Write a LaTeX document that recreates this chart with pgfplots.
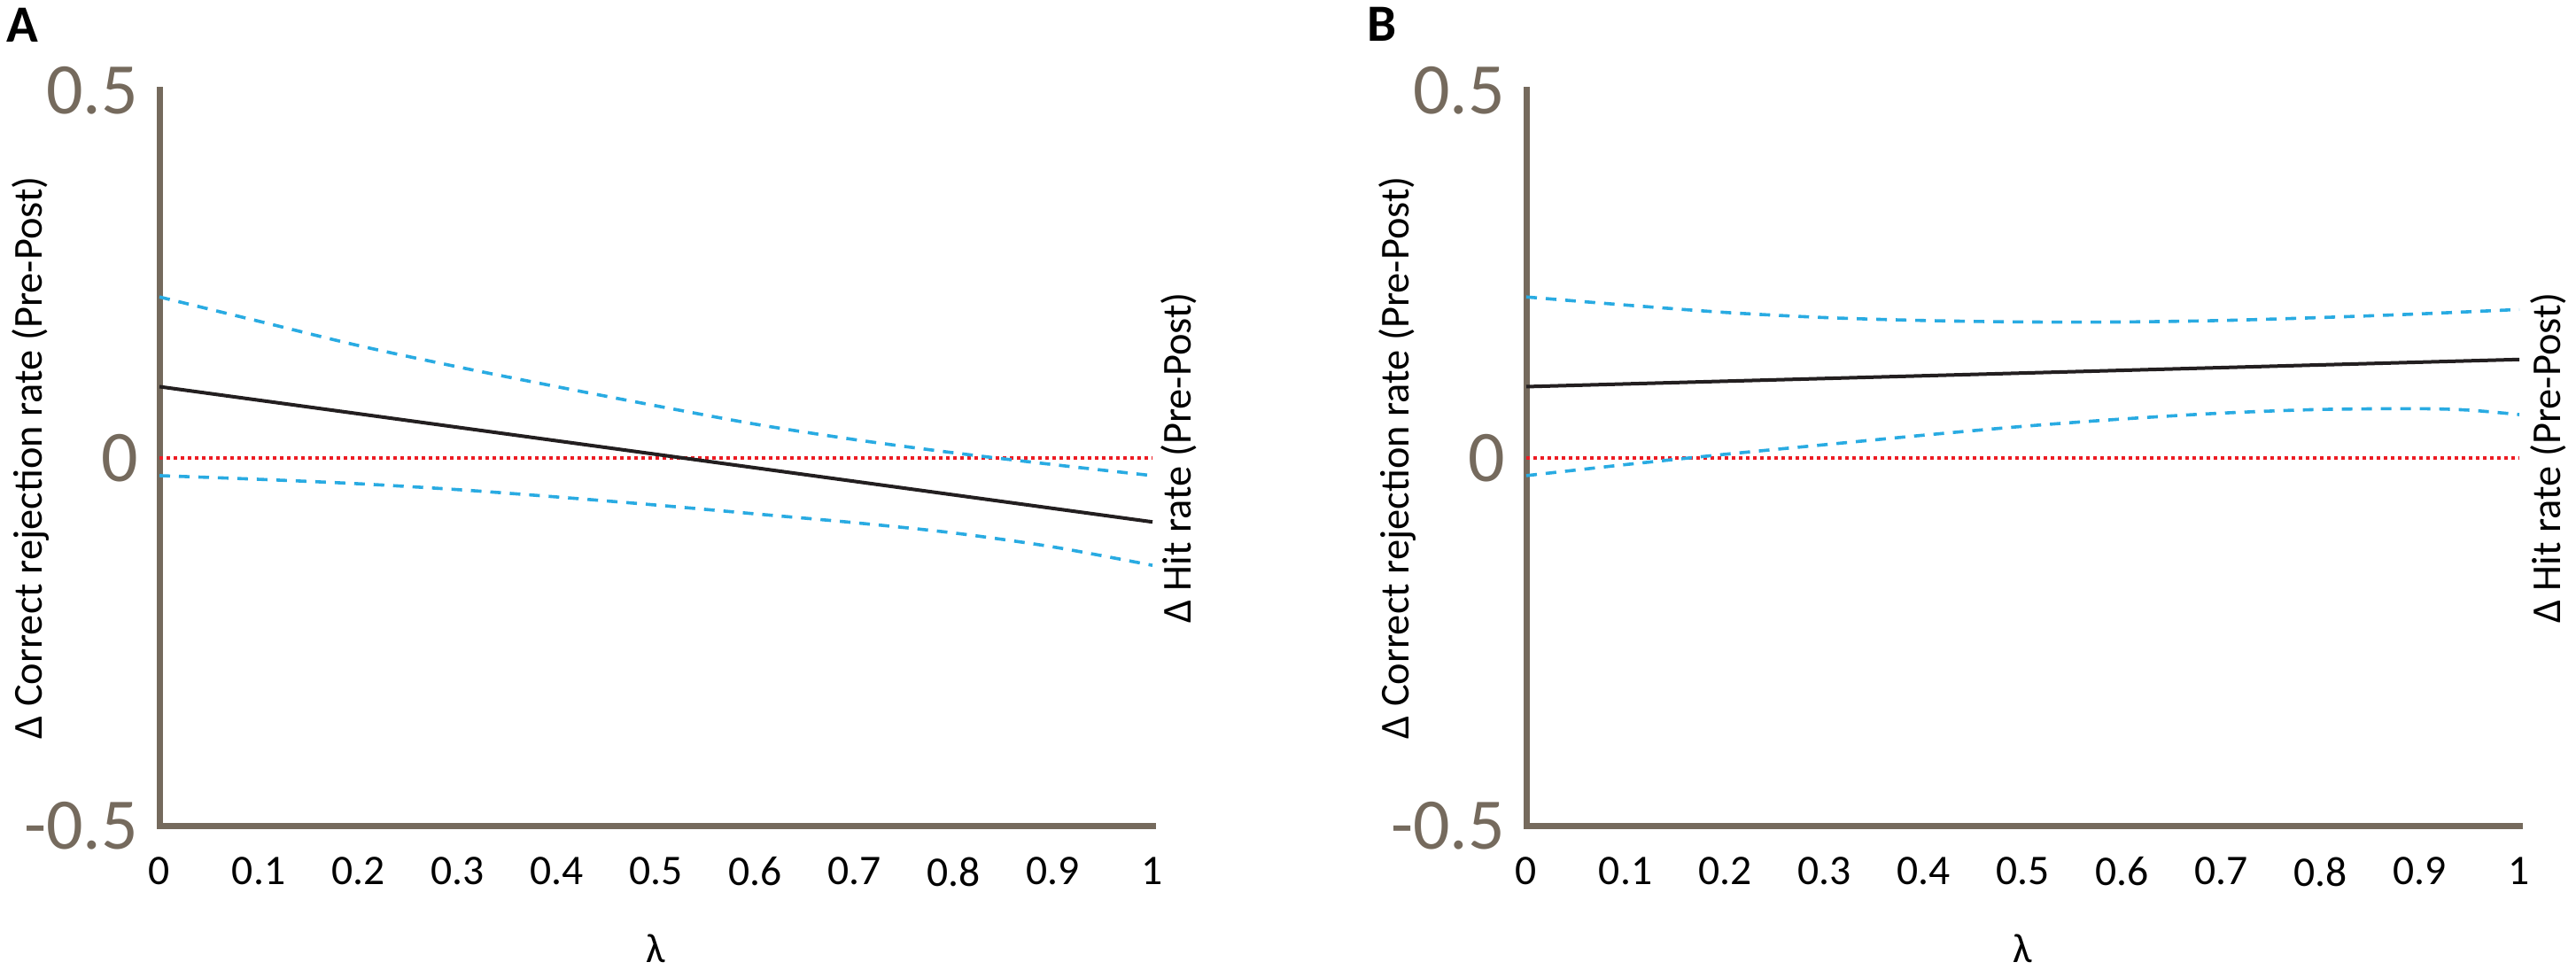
\documentclass[border=0pt]{standalone}
\usepackage{pgfplots}
\pgfplotsset{compat=1.18}
\usepackage{fontspec}
\setmainfont{Carlito}
\definecolor{axc}{RGB}{117,106,93}
\definecolor{cib}{RGB}{41,171,226}
\definecolor{zr}{RGB}{237,28,36}
\definecolor{ln}{RGB}{35,31,32}
\pgfplotsset{panel/.style={
  scale only axis, width=280.25pt, height=207.5pt,
  xmin=0, xmax=1, ymin=-0.5, ymax=0.5,
  axis x line=bottom, axis y line=left,
  axis line style={-, line width=1.75pt, color=axc, line cap=rect},
  xtick={0,0.1,0.2,0.3,0.4,0.5,0.6,0.7,0.8,0.9,1},
  xticklabels={0,0.1,0.2,0.3,0.4,0.5,0.6,0.7,0.8,0.9,1},
  ytick={-0.5,0,0.5}, yticklabels={-0.5,0,0.5},
  major tick length=0pt,
  /pgf/number format/assume math mode=true,
  xticklabel style={font=\fontsize{11.9}{12}\selectfont, text=black, anchor=north, inner sep=0pt, yshift=-8.75pt},
  yticklabel style={font=\fontsize{20.5}{21}\selectfont, text=axc, anchor=east, inner sep=0pt, xshift=-5.75pt},
  every axis y label/.style={at={(axis description cs:-0.1186,0.5)}, rotate=90, anchor=base, font=\fontsize{11.6}{12}\selectfont},
  every axis x label/.style={at={(axis description cs:0.5,-0.1867)}, anchor=base, font=\fontsize{11.6}{12}\selectfont},
  clip=false,
}}
\begin{document}
\begin{tikzpicture}
\useasboundingbox (0,0) rectangle (727pt,273.5pt);
\begin{axis}[panel, at={(45pt,40.5pt)}, anchor=south west, xlabel={λ}, ylabel={Δ Correct rejection rate (Pre-Post)}]
\addplot[zr, line width=0.9pt, dash pattern=on 1pt off 1pt] coordinates {(0,0) (1,0)};
\addplot[cib, line width=0.9pt, dash pattern=on 3pt off 2.5pt, smooth] coordinates {
(0,0.219) (0.1,0.186) (0.2,0.153) (0.3,0.124) (0.4,0.097) (0.5,0.071) (0.6,0.046) (0.7,0.025) (0.8,0.007) (0.9,-0.009) (1,-0.024)};
\addplot[cib, line width=0.9pt, dash pattern=on 3pt off 2.5pt, smooth] coordinates {
(0,-0.024) (0.1,-0.029) (0.2,-0.035) (0.3,-0.043) (0.4,-0.053) (0.5,-0.064) (0.6,-0.076) (0.7,-0.088) (0.8,-0.102) (0.9,-0.121) (1,-0.146)};
\addplot[ln, line width=1pt] coordinates {(0,0.097) (1,-0.087)};
\node[rotate=90, anchor=base, font=\fontsize{11.6}{12}\selectfont] at (axis description cs:1.039,0.5) {Δ Hit rate (Pre-Post)};
\end{axis}
\begin{axis}[panel, at={(430.75pt,40.5pt)}, anchor=south west, xlabel={λ}, ylabel={Δ Correct rejection rate (Pre-Post)}]
\addplot[zr, line width=0.9pt, dash pattern=on 1pt off 1pt] coordinates {(0,0) (1,0)};
\addplot[cib, line width=0.9pt, dash pattern=on 3pt off 2.5pt, smooth] coordinates {
(0,0.219) (0.1,0.208) (0.2,0.198) (0.3,0.191) (0.4,0.187) (0.5,0.185) (0.6,0.185) (0.7,0.187) (0.8,0.191) (0.9,0.196) (1,0.202)};
\addplot[cib, line width=0.9pt, dash pattern=on 3pt off 2.5pt, smooth] coordinates {
(0,-0.024) (0.1,-0.009) (0.2,0.005) (0.3,0.018) (0.4,0.031) (0.5,0.043) (0.6,0.053) (0.7,0.061) (0.8,0.066) (0.9,0.067) (0.95,0.065) (1,0.059)};
\addplot[ln, line width=1pt] coordinates {(0,0.097) (1,0.134)};
\node[rotate=90, anchor=base, font=\fontsize{11.6}{12}\selectfont] at (axis description cs:1.041,0.5) {Δ Hit rate (Pre-Post)};
\end{axis}
\node[anchor=base west, inner sep=0pt, font=\bfseries\fontsize{14.75}{15}\selectfont] at (1.75pt,261.5pt) {A};
\node[anchor=base west, inner sep=0pt, font=\bfseries\fontsize{14.75}{15}\selectfont] at (385.75pt,261.75pt) {B};
\end{tikzpicture}
\end{document}
